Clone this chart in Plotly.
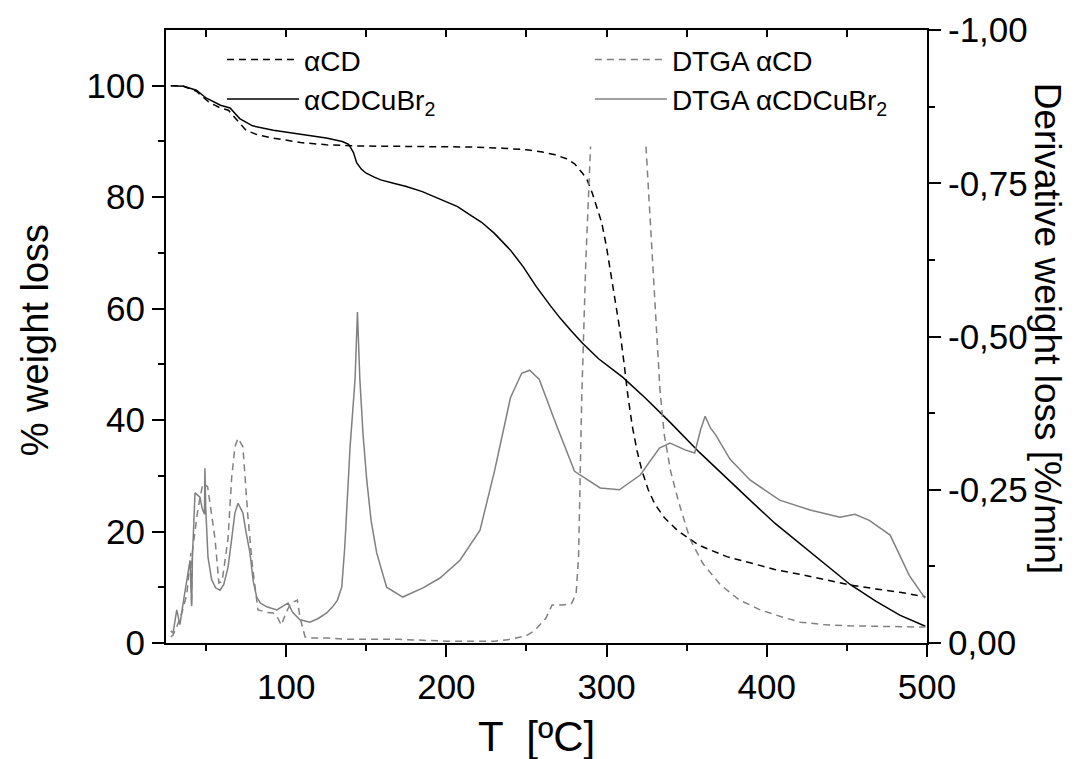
import plotly.graph_objects as go

# ---------------- data ----------------
# TGA alpha-CD (black dashed), % weight
tga_acd_T = [28, 35, 44, 52, 59, 64, 71, 75, 82, 92, 109, 125, 142, 180, 215, 235, 250, 260, 268,
             275, 280, 285, 288, 291, 294, 297, 300, 304, 308, 311, 313, 316, 319, 322, 326, 330,
             336, 345, 358, 375, 390, 405, 421, 437, 452, 468, 483, 499]
tga_acd_W = [100, 100, 99.0, 97.0, 96.0, 95.6, 93.3, 92.0, 91.2, 90.6, 89.8, 89.4, 89.2, 89.1, 89.0,
             88.8, 88.5, 88.1, 87.6, 86.9, 86.0, 84.3, 83.0, 80.8, 78.3, 75.4, 71.0, 64.0, 56.7,
             50.0, 45.0, 39.0, 34.5, 31.0, 27.5, 25.0, 22.5, 20.0, 17.5, 15.5, 14.3, 13.2, 12.3,
             11.3, 10.4, 9.7, 9.1, 8.3]

# TGA alpha-CD-CuBr2 (black solid)
tga_cu_T = [28, 36, 44, 50, 59, 65, 71, 79, 92, 109, 125, 135, 139, 142, 144, 147, 150, 155, 159,
            167, 175, 185, 192, 200, 207, 215, 222, 230, 240, 248, 256, 265, 271, 278, 285, 295,
            310, 324, 340, 358, 375, 390, 405, 421, 437, 452, 468, 483, 499]
tga_cu_W = [100, 99.9, 99.2, 97.8, 96.5, 96.0, 94.1, 92.8, 92.0, 91.3, 90.6, 90.0, 89.5, 88.0,
            86.2, 85.0, 84.3, 83.6, 83.1, 82.5, 81.9, 81.0, 80.1, 79.2, 78.3, 76.8, 75.5, 73.5,
            70.5, 67.5, 64.0, 60.5, 58.3, 56.0, 53.8, 51.0, 47.7, 44.0, 39.5, 34.2, 29.5, 25.5,
            21.5, 17.8, 14.0, 10.5, 7.5, 5.0, 3.0]

# DTGA alpha-CD (grey dashed), %/min  (None = off-scale gap)
dtga_acd_T = [28, 29.4, 31.7, 35, 38, 40.5, 41, 41.5, 45, 48, 51, 53, 55.6, 58, 60, 63.7, 66, 68,
              70, 73, 76, 79, 82.4, 88, 91.8, 94, 97, 100, 103, 107, 108.6, 111.8, 115, 125, 140,
              170, 200, 230, 240, 250, 255, 262, 266, 272, 278, 281, 282.5, 284.5, 287, 290,
              None, 324.6, 327, 330, 333.4, 336, 340, 345, 352, 360, 371, 383, 396, 410, 421,
              435, 452, 475, 499]
dtga_acd_D = [-0.01, -0.013, -0.026, -0.05, -0.08, -0.147, -0.062, -0.15, -0.22, -0.26, -0.255,
              -0.22, -0.17, -0.098, -0.10, -0.17, -0.27, -0.32, -0.334, -0.32, -0.21, -0.124,
              -0.054, -0.05, -0.049, -0.045, -0.029, -0.05, -0.065, -0.07, -0.042, -0.01, -0.008,
              -0.008, -0.006, -0.006, -0.003, -0.003, -0.006, -0.012, -0.02, -0.04, -0.062,
              -0.062, -0.064, -0.08, -0.14, -0.40, -0.62, -0.81,
              None, -0.81, -0.70, -0.55, -0.41, -0.34, -0.28, -0.23, -0.17, -0.13, -0.095, -0.07,
              -0.054, -0.042, -0.034, -0.03, -0.028, -0.027, -0.026]

# DTGA alpha-CD-CuBr2 (grey solid)
dtga_cu_T = [28, 29.4, 31.7, 33.7, 36, 38, 40, 41, 41.5, 43.1, 46.2, 47.5, 49.0, 49.3, 49.8, 51.2,
             53.5, 56, 58.7, 61, 63.7, 66, 68, 70, 73, 75, 77.4, 79.5, 81.6, 84, 87.9, 94.1, 97,
             101.2, 104, 108.6, 114.9, 120, 125.3, 129, 132, 134.7, 136.6, 138.5, 139.9, 143,
             144.5, 146, 148, 150.3, 153, 156.5, 162.7, 172.8, 185.4, 196, 208.5, 221, 230, 240,
             247, 252, 258, 268, 280, 296, 308, 321, 333, 339.6, 345, 349, 355, 358.6, 361.5,
             365, 368, 377, 389.5, 408, 427, 445.7, 455, 464, 477, 489, 498.8]
dtga_cu_D = [-0.02, -0.016, -0.054, -0.03, -0.07, -0.10, -0.135, -0.06, -0.14, -0.245, -0.238,
             -0.22, -0.21, -0.285, -0.22, -0.14, -0.103, -0.09, -0.086, -0.095, -0.123, -0.17,
             -0.212, -0.228, -0.212, -0.18, -0.147, -0.10, -0.075, -0.065, -0.059, -0.054, -0.058,
             -0.065, -0.05, -0.038, -0.034, -0.04, -0.049, -0.059, -0.07, -0.091, -0.157, -0.24,
             -0.32, -0.43, -0.54, -0.43, -0.34, -0.266, -0.2, -0.147, -0.091, -0.075, -0.09,
             -0.106, -0.135, -0.184, -0.28, -0.40, -0.44, -0.445, -0.43, -0.36, -0.28, -0.253,
             -0.25, -0.274, -0.318, -0.326, -0.32, -0.315, -0.31, -0.347, -0.37, -0.35, -0.34,
             -0.30, -0.266, -0.233, -0.217, -0.205, -0.21, -0.2, -0.176, -0.11, -0.073]

left_ticks = [0, 20, 40, 60, 80, 100]
right_tickvals = [0, -0.25, -0.5, -0.75, -1.0]
right_ticktext = ["0,00", "-0,25", "-0,50", "-0,75", "-1,00"]

# ---------------- figure ----------------
FONT = "Liberation Sans, Arial, sans-serif"
GREY = "#808080"

fig = go.Figure()
fig.add_trace(go.Scatter(x=tga_acd_T, y=tga_acd_W, mode="lines", name="\u03b1CD",
                         line=dict(color="black", width=1.5, dash="7px,5px"), legend="legend"))
fig.add_trace(go.Scatter(x=tga_cu_T, y=tga_cu_W, mode="lines", name="\u03b1CDCuBr<sub>2</sub>",
                         line=dict(color="black", width=1.5), legend="legend"))
fig.add_trace(go.Scatter(x=dtga_acd_T, y=dtga_acd_D, mode="lines", name="DTGA \u03b1CD",
                         yaxis="y2", connectgaps=False,
                         line=dict(color=GREY, width=1.5, dash="7px,5px"), legend="legend2"))
fig.add_trace(go.Scatter(x=dtga_cu_T, y=dtga_cu_D, mode="lines",
                         name="DTGA \u03b1CDCuBr<sub>2</sub>", yaxis="y2",
                         line=dict(color=GREY, width=1.5), legend="legend2"))
# helper (empty) trace so the top tick axis is drawn
fig.add_trace(go.Scatter(x=[None], y=[None], xaxis="x3", yaxis="y", showlegend=False,
                         hoverinfo="skip"))

axis_common = dict(showgrid=False, zeroline=False, linecolor="black", linewidth=2,
                   tickcolor="black", tickwidth=2, ticklen=12, automargin=False,
                   tickfont=dict(family=FONT, size=35, color="black"))

TITLE_FONT = dict(family=FONT, size=38, color="black")
LEG_FONT = dict(family=FONT, size=28, color="black")

fig.update_layout(
    width=1079, height=759,
    # page body has an 8px offset; margins compensate so the plot frame sits at 166..927 x 30..643
    margin=dict(l=158, r=160, t=22, b=124),
    paper_bgcolor="white", plot_bgcolor="white",
    font=dict(family=FONT, color="black"),
    xaxis=dict(range=[25, 500], tick0=0, dtick=100, ticks="outside", showline=True,
               mirror=True,
               minor=dict(dtick=50, tick0=0, ticks="outside", ticklen=6, tickwidth=2,
                          tickcolor="black"),
               **axis_common),
    xaxis3=dict(range=[25, 500], overlaying="x", side="top", anchor="y", tick0=0, dtick=50,
                ticks="inside", ticklen=7, tickwidth=2, tickcolor="black",
                showticklabels=False, showline=False, showgrid=False, zeroline=False),
    yaxis=dict(range=[0, 110], tickvals=left_ticks, ticks="outside", showline=True,
               minor=dict(tickvals=[10, 30, 50, 70, 90], ticks="outside", ticklen=6,
                          tickwidth=2, tickcolor="black"),
               **axis_common),
    yaxis2=dict(range=[0, -1], overlaying="y", side="right", anchor="x",
                tickvals=right_tickvals, ticktext=right_ticktext, ticks="outside",
                showline=True,
                minor=dict(tickvals=[-0.125, -0.375, -0.625, -0.875], ticks="outside",
                           ticklen=6, tickwidth=2, tickcolor="black"),
                **axis_common),
    legend=dict(x=0.0736, y=0.992, xanchor="left", yanchor="top", bgcolor="rgba(0,0,0,0)",
                font=LEG_FONT, itemwidth=72, tracegroupgap=0),
    legend2=dict(x=0.557, y=0.992, xanchor="left", yanchor="top", bgcolor="rgba(0,0,0,0)",
                 font=LEG_FONT, itemwidth=72, tracegroupgap=0),
    annotations=[
        dict(text="% weight loss", xref="paper", yref="paper", x=-0.172, y=0.494,
             xanchor="center", yanchor="middle", textangle=-90, showarrow=False,
             font=TITLE_FONT),
        dict(text="T  [\u00baC]", xref="paper", yref="paper", x=0.4875, y=-0.152,
             xanchor="center", yanchor="middle", showarrow=False,
             font=dict(family=FONT, size=42, color="black")),
        dict(text="Derivative weight loss [%/min]", xref="paper", yref="paper", x=1.158,
             y=0.514, xanchor="center", yanchor="middle", textangle=90, showarrow=False,
             font=dict(family=FONT, size=37, color="black")),
    ],
)

fig.write_html("out.html")
